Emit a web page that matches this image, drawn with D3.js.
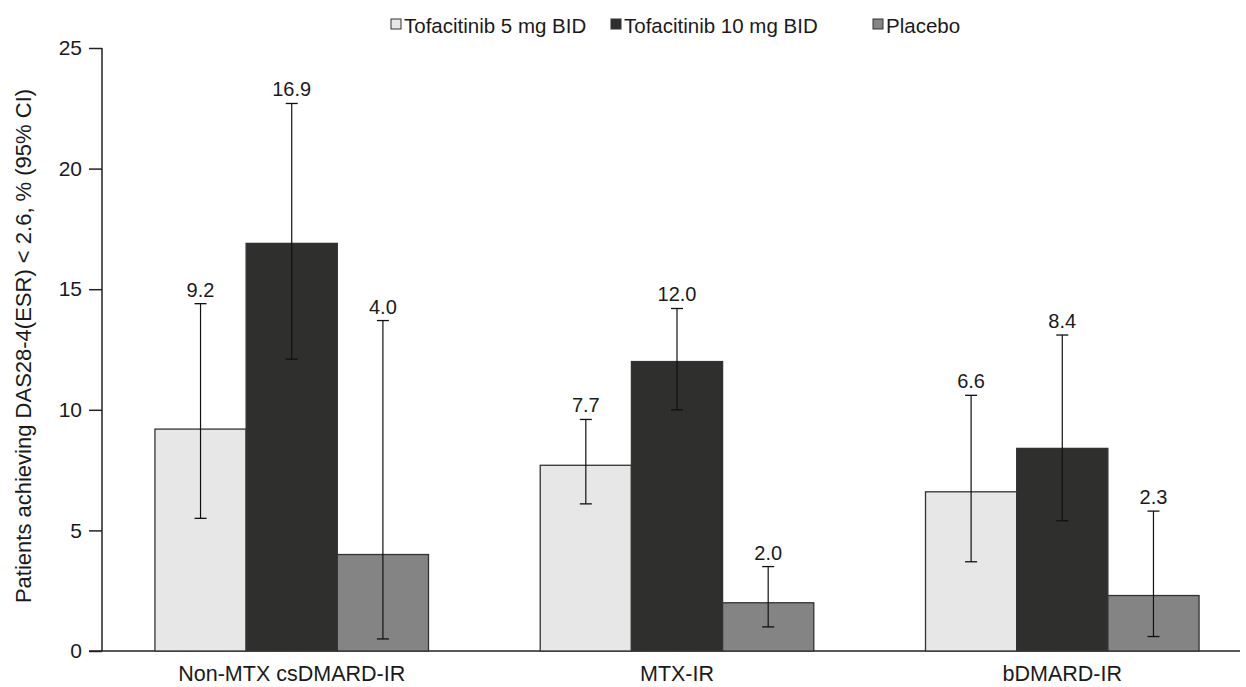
<!DOCTYPE html>
<html><head><meta charset="utf-8">
<script src="https://cdn.jsdelivr.net/npm/d3@7"></script>
<style>body{margin:0;background:#fff}svg text{font-family:"Liberation Sans",Arial,Helvetica,sans-serif;fill:#1a1a1a}</style>
</head><body><svg id="c" width="1246" height="687"></svg>
<script>
const categories = ["Non-MTX csDMARD-IR", "MTX-IR", "bDMARD-IR"];
const seriesNames = ["Tofacitinib 5 mg BID", "Tofacitinib 10 mg BID", "Placebo"];
const seriesColors = ["#e6e7e6", "#2f2f2e", "#848484"];
const values = [[9.2, 16.9, 4.0], [7.7, 12.0, 2.0], [6.6, 8.4, 2.3]];
const ciLow  = [[5.5, 12.1, 0.5], [6.1, 10.0, 1.0], [3.7, 5.4, 0.6]];
const ciHigh = [[14.4, 22.7, 13.7], [9.6, 14.2, 3.5], [10.6, 13.1, 5.8]];
const yTicks = [0, 5, 10, 15, 20, 25];
const yTitle = "Patients achieving DAS28-4(ESR) < 2.6, % (95% CI)";

const svg = d3.select("#c");
const y = d3.scaleLinear().domain([0, 25]).range([651, 48]);
const x0 = d3.scaleBand().domain(categories).range([101, 1253]).paddingInner(0.29).paddingOuter(0.14);
const x1 = d3.scaleBand().domain(seriesNames).range([0, x0.bandwidth()]);

// y axis
const ya = svg.append("g").attr("transform", "translate(102,0)")
  .call(d3.axisLeft(y).tickValues(yTicks).tickSize(13).tickPadding(7));
ya.select(".domain").attr("stroke", "#222").attr("stroke-width", 1.5).attr("d", `M0,${y(25)}V${y(0)}`);
ya.selectAll(".tick line").attr("stroke", "#222").attr("stroke-width", 1.5);
ya.selectAll(".tick text").style("font-size", "21px").attr("fill", "#1a1a1a");

// x axis line
svg.append("line").attr("x1", 89).attr("x2", 1240).attr("y1", y(0)).attr("y2", y(0))
  .attr("stroke", "#222").attr("stroke-width", 1.5);
const xa = svg.append("g").attr("transform", `translate(0,${y(0)})`)
  .call(d3.axisBottom(x0).tickSize(0).tickPadding(15));
xa.select(".domain").remove();
xa.selectAll(".tick text").style("font-size", "21.5px").attr("fill", "#1a1a1a");

// bars
const groups = svg.append("g").selectAll("g").data(categories).join("g")
  .attr("transform", d => `translate(${x0(d)},0)`);
groups.each(function(cat, ci) {
  const g = d3.select(this);
  seriesNames.forEach((s, si) => {
    const v = values[ci][si];
    const bx = x1(s), bw = x1.bandwidth(), cx = bx + bw / 2;
    g.append("rect").attr("x", bx).attr("y", y(v)).attr("width", bw).attr("height", y(0) - y(v))
      .attr("fill", seriesColors[si]).attr("stroke", "#333").attr("stroke-width", 1.3);
    const lo = y(ciLow[ci][si]), hi = y(ciHigh[ci][si]);
    g.append("line").attr("x1", cx).attr("x2", cx).attr("y1", hi).attr("y2", lo).attr("stroke", "#111").attr("stroke-width", 1.2);
    [hi, lo].forEach(yy => g.append("line").attr("x1", cx - 6).attr("x2", cx + 6).attr("y1", yy).attr("y2", yy).attr("stroke", "#111").attr("stroke-width", 1.3));
    g.append("text").attr("x", cx).attr("y", hi - 7).attr("text-anchor", "middle")
      .style("font-size", "20px").text(v.toFixed(1));
  });
});

// y title
svg.append("text").attr("transform", `translate(31,346) rotate(-90)`)
  .attr("text-anchor", "middle").style("font-size", "22px").text(yTitle);

// legend
const legendX = [391, 611, 873];
seriesNames.forEach((s, i) => {
  svg.append("rect").attr("x", legendX[i]).attr("y", 19).attr("width", 10).attr("height", 10)
    .attr("fill", seriesColors[i]).attr("stroke", "#333").attr("stroke-width", 1);
  svg.append("text").attr("x", legendX[i] + 13).attr("y", 33).style("font-size", "20.5px").text(s);
});
</script></body></html>
